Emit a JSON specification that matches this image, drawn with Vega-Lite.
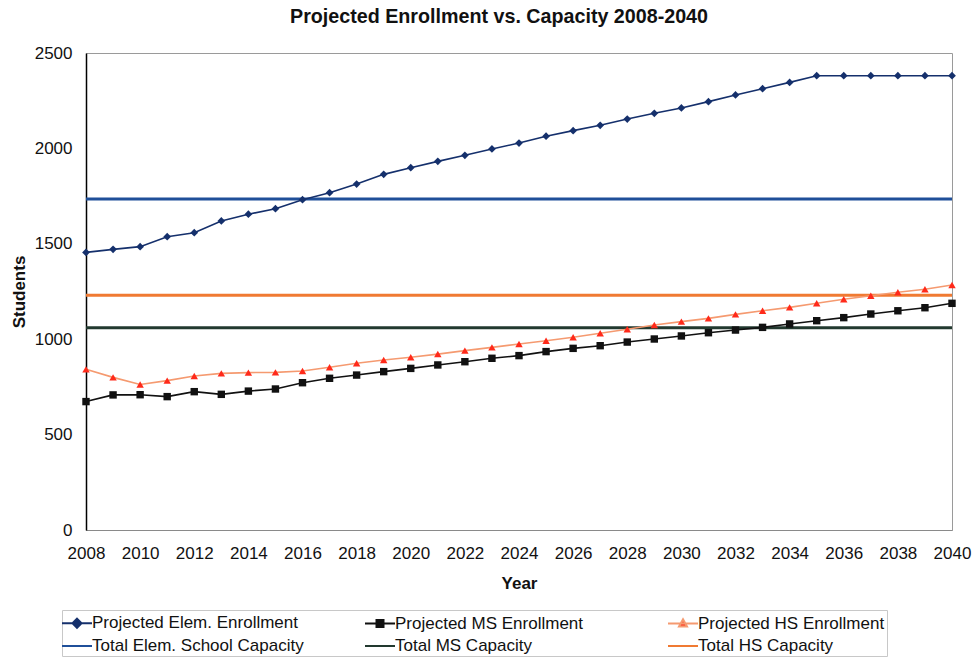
{
  "$schema": "https://vega.github.io/schema/vega-lite/v6.json",
  "width": 866,
  "height": 477,
  "autosize": {"type": "none"},
  "padding": {"left": 86, "top": 53, "right": 22, "bottom": 130},
  "background": "white",
  "title": {
    "text": "Projected Enrollment vs. Capacity 2008-2040",
    "font": "Liberation Sans",
    "fontSize": 19.7,
    "fontWeight": "bold",
    "color": "#111",
    "anchor": "middle",
    "dx": -20,
    "offset": 17
  },
  "config": {
    "font": "Liberation Sans",
    "view": {"stroke": "#9a9a9a", "strokeWidth": 1},
    "axis": {
      "labelFont": "Liberation Sans",
      "labelFontSize": 17,
      "labelColor": "#111",
      "titleFont": "Liberation Sans",
      "titleFontSize": 17,
      "titleFontWeight": "bold",
      "titleColor": "#111",
      "grid": false,
      "ticks": false
    },
    "legend": {
      "orient": "none",
      "legendX": -24,
      "legendY": 557,
      "direction": "horizontal",
      "columns": 3,
      "gridAlign": "all",
      "columnPadding": 57,
      "rowPadding": 3,
      "padding": 2,
      "strokeColor": "#c8c8c8",
      "fillColor": "white",
      "labelFont": "Liberation Sans",
      "labelFontSize": 17,
      "labelColor": "#111",
      "labelOffset": 4,
      "labelLimit": 400,
      "symbolSize": 400,
      "symbolOffset": 2,
      "symbolStrokeWidth": 2,
      "symbolOpacity": 1
    }
  },
  "datasets": {
    "enrollment": [
      {"series": "Projected Elem. Enrollment", "year": 2008, "students": 1455},
      {"series": "Projected Elem. Enrollment", "year": 2009, "students": 1471},
      {"series": "Projected Elem. Enrollment", "year": 2010, "students": 1485},
      {"series": "Projected Elem. Enrollment", "year": 2011, "students": 1537},
      {"series": "Projected Elem. Enrollment", "year": 2012, "students": 1558},
      {"series": "Projected Elem. Enrollment", "year": 2013, "students": 1620},
      {"series": "Projected Elem. Enrollment", "year": 2014, "students": 1655},
      {"series": "Projected Elem. Enrollment", "year": 2015, "students": 1684},
      {"series": "Projected Elem. Enrollment", "year": 2016, "students": 1731},
      {"series": "Projected Elem. Enrollment", "year": 2017, "students": 1768},
      {"series": "Projected Elem. Enrollment", "year": 2018, "students": 1813},
      {"series": "Projected Elem. Enrollment", "year": 2019, "students": 1864},
      {"series": "Projected Elem. Enrollment", "year": 2020, "students": 1899},
      {"series": "Projected Elem. Enrollment", "year": 2021, "students": 1932},
      {"series": "Projected Elem. Enrollment", "year": 2022, "students": 1964},
      {"series": "Projected Elem. Enrollment", "year": 2023, "students": 1997},
      {"series": "Projected Elem. Enrollment", "year": 2024, "students": 2028},
      {"series": "Projected Elem. Enrollment", "year": 2025, "students": 2064},
      {"series": "Projected Elem. Enrollment", "year": 2026, "students": 2093},
      {"series": "Projected Elem. Enrollment", "year": 2027, "students": 2121},
      {"series": "Projected Elem. Enrollment", "year": 2028, "students": 2154},
      {"series": "Projected Elem. Enrollment", "year": 2029, "students": 2184},
      {"series": "Projected Elem. Enrollment", "year": 2030, "students": 2212},
      {"series": "Projected Elem. Enrollment", "year": 2031, "students": 2245},
      {"series": "Projected Elem. Enrollment", "year": 2032, "students": 2280},
      {"series": "Projected Elem. Enrollment", "year": 2033, "students": 2313},
      {"series": "Projected Elem. Enrollment", "year": 2034, "students": 2346},
      {"series": "Projected Elem. Enrollment", "year": 2035, "students": 2381},
      {"series": "Projected Elem. Enrollment", "year": 2036, "students": 2381},
      {"series": "Projected Elem. Enrollment", "year": 2037, "students": 2381},
      {"series": "Projected Elem. Enrollment", "year": 2038, "students": 2381},
      {"series": "Projected Elem. Enrollment", "year": 2039, "students": 2381},
      {"series": "Projected Elem. Enrollment", "year": 2040, "students": 2381},
      {"series": "Projected MS Enrollment", "year": 2008, "students": 673},
      {"series": "Projected MS Enrollment", "year": 2009, "students": 708},
      {"series": "Projected MS Enrollment", "year": 2010, "students": 709},
      {"series": "Projected MS Enrollment", "year": 2011, "students": 699},
      {"series": "Projected MS Enrollment", "year": 2012, "students": 725},
      {"series": "Projected MS Enrollment", "year": 2013, "students": 711},
      {"series": "Projected MS Enrollment", "year": 2014, "students": 728},
      {"series": "Projected MS Enrollment", "year": 2015, "students": 739},
      {"series": "Projected MS Enrollment", "year": 2016, "students": 772},
      {"series": "Projected MS Enrollment", "year": 2017, "students": 795},
      {"series": "Projected MS Enrollment", "year": 2018, "students": 812},
      {"series": "Projected MS Enrollment", "year": 2019, "students": 830},
      {"series": "Projected MS Enrollment", "year": 2020, "students": 847},
      {"series": "Projected MS Enrollment", "year": 2021, "students": 865},
      {"series": "Projected MS Enrollment", "year": 2022, "students": 882},
      {"series": "Projected MS Enrollment", "year": 2023, "students": 900},
      {"series": "Projected MS Enrollment", "year": 2024, "students": 914},
      {"series": "Projected MS Enrollment", "year": 2025, "students": 935},
      {"series": "Projected MS Enrollment", "year": 2026, "students": 952},
      {"series": "Projected MS Enrollment", "year": 2027, "students": 966},
      {"series": "Projected MS Enrollment", "year": 2028, "students": 985},
      {"series": "Projected MS Enrollment", "year": 2029, "students": 1001},
      {"series": "Projected MS Enrollment", "year": 2030, "students": 1017},
      {"series": "Projected MS Enrollment", "year": 2031, "students": 1034},
      {"series": "Projected MS Enrollment", "year": 2032, "students": 1048},
      {"series": "Projected MS Enrollment", "year": 2033, "students": 1062},
      {"series": "Projected MS Enrollment", "year": 2034, "students": 1080},
      {"series": "Projected MS Enrollment", "year": 2035, "students": 1097},
      {"series": "Projected MS Enrollment", "year": 2036, "students": 1113},
      {"series": "Projected MS Enrollment", "year": 2037, "students": 1132},
      {"series": "Projected MS Enrollment", "year": 2038, "students": 1149},
      {"series": "Projected MS Enrollment", "year": 2039, "students": 1165},
      {"series": "Projected MS Enrollment", "year": 2040, "students": 1188},
      {"series": "Projected HS Enrollment", "year": 2008, "students": 842},
      {"series": "Projected HS Enrollment", "year": 2009, "students": 800},
      {"series": "Projected HS Enrollment", "year": 2010, "students": 763},
      {"series": "Projected HS Enrollment", "year": 2011, "students": 783},
      {"series": "Projected HS Enrollment", "year": 2012, "students": 807},
      {"series": "Projected HS Enrollment", "year": 2013, "students": 821},
      {"series": "Projected HS Enrollment", "year": 2014, "students": 825},
      {"series": "Projected HS Enrollment", "year": 2015, "students": 826},
      {"series": "Projected HS Enrollment", "year": 2016, "students": 833},
      {"series": "Projected HS Enrollment", "year": 2017, "students": 853},
      {"series": "Projected HS Enrollment", "year": 2018, "students": 874},
      {"series": "Projected HS Enrollment", "year": 2019, "students": 891},
      {"series": "Projected HS Enrollment", "year": 2020, "students": 905},
      {"series": "Projected HS Enrollment", "year": 2021, "students": 922},
      {"series": "Projected HS Enrollment", "year": 2022, "students": 940},
      {"series": "Projected HS Enrollment", "year": 2023, "students": 957},
      {"series": "Projected HS Enrollment", "year": 2024, "students": 975},
      {"series": "Projected HS Enrollment", "year": 2025, "students": 992},
      {"series": "Projected HS Enrollment", "year": 2026, "students": 1010},
      {"series": "Projected HS Enrollment", "year": 2027, "students": 1031},
      {"series": "Projected HS Enrollment", "year": 2028, "students": 1052},
      {"series": "Projected HS Enrollment", "year": 2029, "students": 1074},
      {"series": "Projected HS Enrollment", "year": 2030, "students": 1092},
      {"series": "Projected HS Enrollment", "year": 2031, "students": 1109},
      {"series": "Projected HS Enrollment", "year": 2032, "students": 1130},
      {"series": "Projected HS Enrollment", "year": 2033, "students": 1149},
      {"series": "Projected HS Enrollment", "year": 2034, "students": 1167},
      {"series": "Projected HS Enrollment", "year": 2035, "students": 1188},
      {"series": "Projected HS Enrollment", "year": 2036, "students": 1209},
      {"series": "Projected HS Enrollment", "year": 2037, "students": 1228},
      {"series": "Projected HS Enrollment", "year": 2038, "students": 1246},
      {"series": "Projected HS Enrollment", "year": 2039, "students": 1262},
      {"series": "Projected HS Enrollment", "year": 2040, "students": 1284}
    ],
    "capacity": [
      {"series": "Total Elem. School Capacity", "students": 1735},
      {"series": "Total MS Capacity", "students": 1060},
      {"series": "Total HS Capacity", "students": 1230}
    ]
  },
  "layer": [
    {
      "data": {"name": "capacity"},
      "mark": {"type": "rule", "strokeWidth": 3},
      "encoding": {
        "y": {"field": "students", "type": "quantitative"},
        "stroke": {"field": "series", "type": "nominal", "legend": {"title": null}}
      }
    },
    {
      "data": {"name": "enrollment"},
      "mark": {"type": "line", "strokeWidth": 1.6},
      "encoding": {
        "x": {
          "field": "year",
          "type": "quantitative",
          "title": "Year",
          "scale": {"domain": [2008, 2040], "nice": false, "zero": false},
          "axis": {
            "values": [2008, 2010, 2012, 2014, 2016, 2018, 2020, 2022, 2024, 2026, 2028, 2030, 2032, 2034, 2036, 2038, 2040],
            "format": "d",
            "labelPadding": 15,
            "labelFlush": false,
            "labelOverlap": false,
            "domainColor": "#8a8a8a",
            "titlePadding": 14
          }
        },
        "y": {
          "field": "students",
          "type": "quantitative",
          "title": "Students",
          "scale": {"domain": [0, 2500], "nice": false},
          "axis": {
            "values": [0, 500, 1000, 1500, 2000, 2500],
            "format": "d",
            "labelPadding": 14,
            "domainColor": "#000",
            "domainWidth": 1.5,
            "titlePadding": 6
          }
        },
        "stroke": {
          "field": "series",
          "type": "nominal",
          "scale": {
            "domain": ["Projected Elem. Enrollment", "Projected MS Enrollment", "Projected HS Enrollment", "Total Elem. School Capacity", "Total MS Capacity", "Total HS Capacity"],
            "range": ["#15306c", "#111111", "#f59a70", "#1f4f99", "#22392f", "#f07a32"]
          },
          "legend": {"title": null}
        }
      }
    },
    {
      "data": {"name": "enrollment"},
      "transform": [{"filter": "datum.series == 'Projected Elem. Enrollment'"}],
      "mark": {"type": "point", "shape": "diamond", "filled": true, "size": 60, "opacity": 1, "color": "#15306c"},
      "encoding": {
        "x": {"field": "year", "type": "quantitative"},
        "y": {"field": "students", "type": "quantitative"}
      }
    },
    {
      "data": {"name": "enrollment"},
      "transform": [{"filter": "datum.series == 'Projected MS Enrollment'"}],
      "mark": {"type": "point", "shape": "square", "filled": true, "size": 55, "opacity": 1, "color": "#111111"},
      "encoding": {
        "x": {"field": "year", "type": "quantitative"},
        "y": {"field": "students", "type": "quantitative"}
      }
    },
    {
      "data": {"name": "enrollment"},
      "transform": [{"filter": "datum.series == 'Projected HS Enrollment'"}],
      "mark": {"type": "point", "shape": "triangle-up", "filled": true, "size": 55, "opacity": 1, "color": "#ff2a1a"},
      "encoding": {
        "x": {"field": "year", "type": "quantitative"},
        "y": {"field": "students", "type": "quantitative"}
      }
    },
    {
      "data": {"name": "enrollment"},
      "mark": {"type": "point", "filled": true, "opacity": 0},
      "encoding": {
        "x": {"field": "year", "type": "quantitative"},
        "y": {"field": "students", "type": "quantitative"},
        "color": {
          "field": "series",
          "type": "nominal",
          "scale": {
            "domain": ["Projected Elem. Enrollment", "Projected MS Enrollment", "Projected HS Enrollment", "Total Elem. School Capacity", "Total MS Capacity", "Total HS Capacity"],
            "range": ["#15306c", "#111111", "#ff2a1a", "transparent", "transparent", "transparent"]
          },
          "legend": {"title": null}
        },
        "stroke": {
          "field": "series",
          "type": "nominal",
          "legend": {"title": null}
        },
        "shape": {
          "field": "series",
          "type": "nominal",
          "scale": {
            "domain": ["Projected Elem. Enrollment", "Projected MS Enrollment", "Projected HS Enrollment", "Total Elem. School Capacity", "Total MS Capacity", "Total HS Capacity"],
            "range": [
              "M-1.5,0H1.5M0,-0.45L0.45,0L0,0.45L-0.45,0Z",
              "M-1.5,0H1.5M-0.35,-0.35H0.35V0.35H-0.35Z",
              "M-1.5,0H1.5M0,-0.42L0.4,0.3H-0.4Z",
              "M-1.5,0H1.5",
              "M-1.5,0H1.5",
              "M-1.5,0H1.5"
            ]
          },
          "legend": {"title": null}
        }
      }
    }
  ]
}
